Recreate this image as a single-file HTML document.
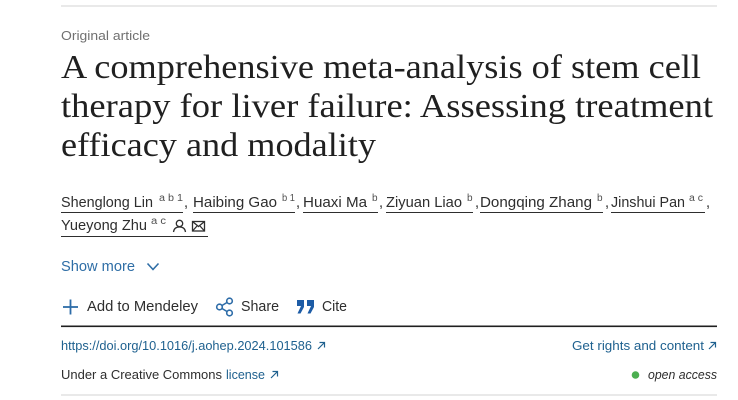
<!DOCTYPE html>
<html>
<head>
<meta charset="utf-8">
<style>
html,body{margin:0;padding:0;background:#fff;}
body{width:738px;height:400px;overflow:hidden;}
svg{display:block;}
.sans{font-family:"Liberation Sans",sans-serif;}
.serif{font-family:"Liberation Serif",serif;}
</style>
</head>
<body>
<svg width="738" height="400" viewBox="0 0 738 400" xmlns="http://www.w3.org/2000/svg">
  <rect x="0" y="0" width="738" height="400" fill="#fff"/>
  <!-- top rule -->
  <rect x="61" y="5" width="656" height="2" fill="#e9e9e9"/>

  <!-- Original article -->
  <text class="sans" x="61" y="40" font-size="13" fill="#707070" textLength="89" lengthAdjust="spacingAndGlyphs">Original article</text>

  <!-- Title -->
  <g class="serif" font-size="34" fill="#202020">
    <text x="61" y="78" textLength="640" lengthAdjust="spacingAndGlyphs">A comprehensive meta-analysis of stem cell</text>
    <text x="61" y="117" textLength="652" lengthAdjust="spacingAndGlyphs">therapy for liver failure: Assessing treatment</text>
    <text x="61" y="156" textLength="315" lengthAdjust="spacingAndGlyphs">efficacy and modality</text>
  </g>

  <!-- Authors row 1 -->
  <g class="sans" fill="#2e2e2e">
    <text x="61" y="207" font-size="14.5" textLength="92" lengthAdjust="spacingAndGlyphs">Shenglong Lin</text>
    <text x="159" y="201" font-size="10" fill="#505050" textLength="24" lengthAdjust="spacingAndGlyphs">a b 1</text>
    <text x="184" y="207" font-size="14.5">,</text>

    <text x="193" y="207" font-size="14.5" textLength="84" lengthAdjust="spacingAndGlyphs">Haibing Gao</text>
    <text x="282" y="201" font-size="10" fill="#505050" textLength="13" lengthAdjust="spacingAndGlyphs">b 1</text>
    <text x="296" y="207" font-size="14.5">,</text>

    <text x="303" y="207" font-size="14.5" textLength="64" lengthAdjust="spacingAndGlyphs">Huaxi Ma</text>
    <text x="372" y="201" font-size="10" fill="#505050">b</text>
    <text x="379" y="207" font-size="14.5">,</text>

    <text x="386" y="207" font-size="14.5" textLength="76" lengthAdjust="spacingAndGlyphs">Ziyuan Liao</text>
    <text x="467" y="201" font-size="10" fill="#505050">b</text>
    <text x="475" y="207" font-size="14.5">,</text>

    <text x="480" y="207" font-size="14.5" textLength="112" lengthAdjust="spacingAndGlyphs">Dongqing Zhang</text>
    <text x="597" y="201" font-size="10" fill="#505050">b</text>
    <text x="605" y="207" font-size="14.5">,</text>

    <text x="611" y="207" font-size="14.5" textLength="74" lengthAdjust="spacingAndGlyphs">Jinshui Pan</text>
    <text x="689" y="201" font-size="10" fill="#505050" textLength="14" lengthAdjust="spacingAndGlyphs">a c</text>
    <text x="706" y="207" font-size="14.5">,</text>
  </g>
  <g stroke="#2e2e2e" stroke-width="1">
    <line x1="61" y1="212.5" x2="183" y2="212.5"/>
    <line x1="193" y1="212.5" x2="295" y2="212.5"/>
    <line x1="303" y1="212.5" x2="378" y2="212.5"/>
    <line x1="386" y1="212.5" x2="473" y2="212.5"/>
    <line x1="480" y1="212.5" x2="603" y2="212.5"/>
    <line x1="611" y1="212.5" x2="705" y2="212.5"/>
    <line x1="61" y1="236.5" x2="208" y2="236.5"/>
  </g>

  <!-- Authors row 2 -->
  <g class="sans" fill="#2e2e2e">
    <text x="61" y="230" font-size="14.5" textLength="86" lengthAdjust="spacingAndGlyphs">Yueyong Zhu</text>
    <text x="151" y="224" font-size="10" fill="#505050" textLength="15" lengthAdjust="spacingAndGlyphs">a c</text>
  </g>
  <!-- person icon -->
  <g fill="none" stroke="#2e2e2e" stroke-width="1.3">
    <circle cx="179.5" cy="223.5" r="3.2"/>
    <path d="M173.5 232 C174 228 176.5 227 179.5 227 C182.5 227 185 228 185.5 232"/>
  </g>
  <!-- envelope icon -->
  <g fill="none" stroke="#2e2e2e" stroke-width="1.3">
    <rect x="192.5" y="221.5" width="12" height="9.5"/>
    <path d="M192.5 221.5 L198.5 226.5 L204.5 221.5"/>
    <path d="M192.5 231 L197 226 M204.5 231 L200 226"/>
  </g>

  <!-- Show more -->
  <text class="sans" x="61" y="271" font-size="14.5" fill="#2f6ea6" textLength="74" lengthAdjust="spacingAndGlyphs">Show more</text>
  <path d="M147.5 263.5 L153 269.5 L158.5 263.5" fill="none" stroke="#2f6ea6" stroke-width="1.6"/>

  <!-- Actions -->
  <g stroke="#2d6ca8" stroke-width="1.8" fill="none">
    <line x1="63" y1="307" x2="78" y2="307"/>
    <line x1="70.5" y1="299.5" x2="70.5" y2="314.5"/>
  </g>
  <text class="sans" x="87" y="311" font-size="14.5" fill="#2e2e2e" textLength="111" lengthAdjust="spacingAndGlyphs">Add to Mendeley</text>

  <g stroke="#2d6ca8" stroke-width="1.6" fill="none">
    <circle cx="219.5" cy="307" r="2.8"/>
    <circle cx="229.5" cy="301" r="2.8"/>
    <circle cx="229.5" cy="313" r="2.8"/>
    <line x1="222" y1="305.5" x2="227" y2="302.5"/>
    <line x1="222" y1="308.5" x2="227" y2="311.5"/>
  </g>
  <text class="sans" x="241" y="311" font-size="14.5" fill="#2e2e2e" textLength="38" lengthAdjust="spacingAndGlyphs">Share</text>

  <g fill="#1d5ca6">
    <rect x="297" y="300" width="7" height="6"/>
    <path d="M301 306 L304 306 L304 307 L300.5 313.5 L297.5 313.5 L301 306 Z"/>
    <rect x="307" y="300" width="7" height="6"/>
    <path d="M311 306 L314 306 L314 307 L310.5 313.5 L307.5 313.5 L311 306 Z"/>
  </g>
  <text class="sans" x="322" y="311" font-size="14.5" fill="#2e2e2e" textLength="25" lengthAdjust="spacingAndGlyphs">Cite</text>

  <!-- black rule -->
  <rect x="61" y="325.5" width="656" height="1.6" fill="#1f1f1f"/>

  <!-- DOI row -->
  <text class="sans" x="61" y="350" font-size="12.5" fill="#1f618f" textLength="251" lengthAdjust="spacingAndGlyphs">https://doi.org/10.1016/j.aohep.2024.101586</text>
  <g stroke="#1f618f" stroke-width="1.2" fill="none">
    <path d="M318 349 L324.5 342.5 M319.5 342.5 L324.5 342.5 L324.5 347.5"/>
  </g>
  <text class="sans" x="572" y="350" font-size="12.5" fill="#1f618f" textLength="132" lengthAdjust="spacingAndGlyphs">Get rights and content</text>
  <g stroke="#1f618f" stroke-width="1.2" fill="none">
    <path d="M709 349 L715.5 342.5 M710.5 342.5 L715.5 342.5 L715.5 347.5"/>
  </g>

  <!-- License row -->
  <text class="sans" x="61" y="379" font-size="12.5" fill="#2e2e2e" textLength="161" lengthAdjust="spacingAndGlyphs">Under a Creative Commons</text>
  <text class="sans" x="226" y="379" font-size="12.5" fill="#1f618f" textLength="39" lengthAdjust="spacingAndGlyphs">license</text>
  <g stroke="#1f618f" stroke-width="1.2" fill="none">
    <path d="M271 378 L277.5 371.5 M272.5 371.5 L277.5 371.5 L277.5 376.5"/>
  </g>
  <circle cx="635.5" cy="375" r="3.8" fill="#4caf50"/>
  <text class="sans" x="648" y="379" font-size="12.5" font-style="italic" fill="#2e2e2e" textLength="69" lengthAdjust="spacingAndGlyphs">open access</text>

  <!-- bottom rule -->
  <rect x="61" y="394" width="656" height="2" fill="#e9e9e9"/>
</svg>
</body>
</html>
